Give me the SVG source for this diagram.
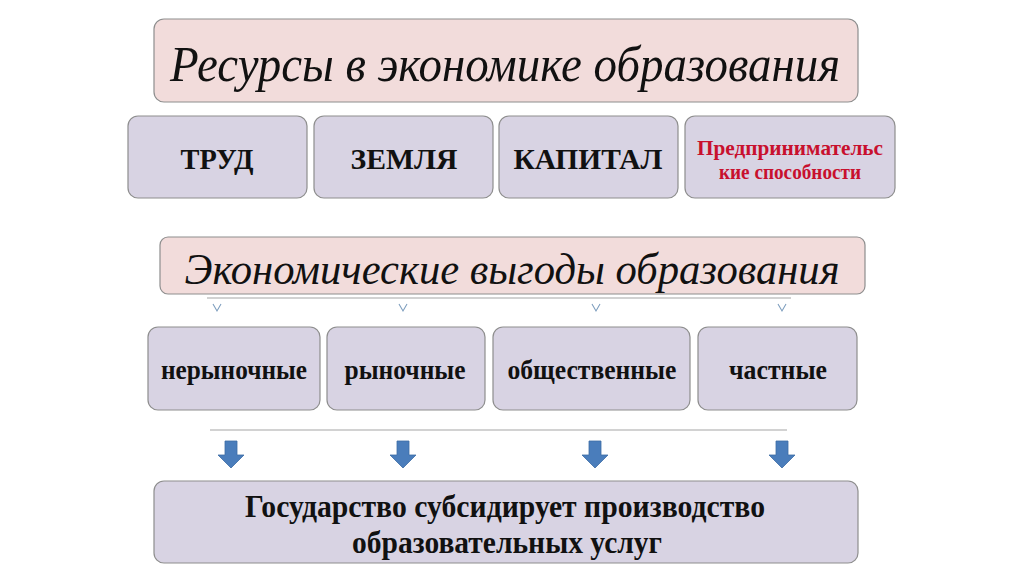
<svg xmlns="http://www.w3.org/2000/svg" width="1024" height="576" viewBox="0 0 1024 576">
<style>
.pink{fill:#f2dcdb;stroke:#8e8e8e;stroke-width:1.2}
.lav{fill:#d8d3e3;stroke:#8e8e8e;stroke-width:1.2}
.title{font-family:"Liberation Serif",serif;font-style:italic;fill:#111;text-anchor:middle}
.bold{font-family:"Liberation Serif",serif;font-weight:bold;fill:#111;text-anchor:middle}
.red{fill:#c8102e}
.ln{stroke:#a6a6a6;stroke-width:1.2;fill:none}
.chev{stroke:#7f9fbf;stroke-width:1.1;fill:none}
.blue{fill:#4a7dbb;stroke:#3d6ca5;stroke-width:0.8}
</style>
<rect width="1024" height="576" fill="#ffffff"/>
<g id="resources-title">
<rect class="pink" x="154" y="19" width="704" height="83" rx="10"/>
<text class="title" x="505" y="81" font-size="51" textLength="670" lengthAdjust="spacingAndGlyphs">Ресурсы в экономике образования</text>
</g>
<g id="trud">
<rect class="lav" x="128" y="116" width="179" height="82" rx="10"/>
<text class="bold" x="217" y="169" font-size="29" textLength="73" lengthAdjust="spacingAndGlyphs">ТРУД</text>
</g>
<g id="zemlya">
<rect class="lav" x="314" y="116" width="179" height="82" rx="10"/>
<text class="bold" x="404" y="169" font-size="29" textLength="107" lengthAdjust="spacingAndGlyphs">ЗЕМЛЯ</text>
</g>
<g id="kapital">
<rect class="lav" x="499" y="116" width="179" height="82" rx="10"/>
<text class="bold" x="588" y="169" font-size="29" textLength="149" lengthAdjust="spacingAndGlyphs">КАПИТАЛ</text>
</g>
<g id="predprin">
<rect class="lav" x="685" y="116" width="210" height="82" rx="10"/>
<text class="bold red" x="790" y="155" font-size="21" textLength="186" lengthAdjust="spacingAndGlyphs">Предпринимательс</text>
<text class="bold red" x="790" y="179" font-size="21" textLength="142" lengthAdjust="spacingAndGlyphs">кие способности</text>
</g>
<g id="benefits-title">
<rect class="pink" x="160" y="237" width="705" height="57" rx="8"/>
<text class="title" x="512" y="284" font-size="44" textLength="655" lengthAdjust="spacingAndGlyphs">Экономические выгоды образования</text>
</g>
<g id="connectors">
<line class="ln" x1="207" y1="298" x2="791" y2="298"/>
<path class="chev" d="M213,304 L217,311 L221,304 M399,304 L403,311 L407,304 M592,304 L596,311 L600,304 M778,304 L782,311 L786,304"/>
<line class="ln" x1="210" y1="430" x2="787" y2="430"/>
<path class="blue" d="M225,441 h12 v14 h7 l-13,13 l-13,-13 h7 z"/>
<path class="blue" d="M397,441 h12 v14 h7 l-13,13 l-13,-13 h7 z"/>
<path class="blue" d="M589,441 h12 v14 h7 l-13,13 l-13,-13 h7 z"/>
<path class="blue" d="M776,441 h12 v14 h7 l-13,13 l-13,-13 h7 z"/>
</g>
<g id="nerynochnye">
<rect class="lav" x="148" y="327" width="172" height="83" rx="10"/>
<text class="bold" x="234" y="379" font-size="27" textLength="146" lengthAdjust="spacingAndGlyphs">нерыночные</text>
</g>
<g id="rynochnye">
<rect class="lav" x="327" y="327" width="158" height="83" rx="10"/>
<text class="bold" x="405" y="379" font-size="27" textLength="121" lengthAdjust="spacingAndGlyphs">рыночные</text>
</g>
<g id="obshchestvennye">
<rect class="lav" x="493" y="327" width="197" height="83" rx="10"/>
<text class="bold" x="592" y="379" font-size="27" textLength="169" lengthAdjust="spacingAndGlyphs">общественные</text>
</g>
<g id="chastnye">
<rect class="lav" x="698" y="327" width="159" height="83" rx="10"/>
<text class="bold" x="778" y="379" font-size="27" textLength="98" lengthAdjust="spacingAndGlyphs">частные</text>
</g>
<g id="state">
<rect class="lav" x="154" y="481" width="704" height="82" rx="10"/>
<text class="bold" x="505" y="517" font-size="31" textLength="520" lengthAdjust="spacingAndGlyphs">Государство субсидирует производство</text>
<text class="bold" x="507" y="553" font-size="31" textLength="310" lengthAdjust="spacingAndGlyphs">образовательных услуг</text>
</g>
</svg>
